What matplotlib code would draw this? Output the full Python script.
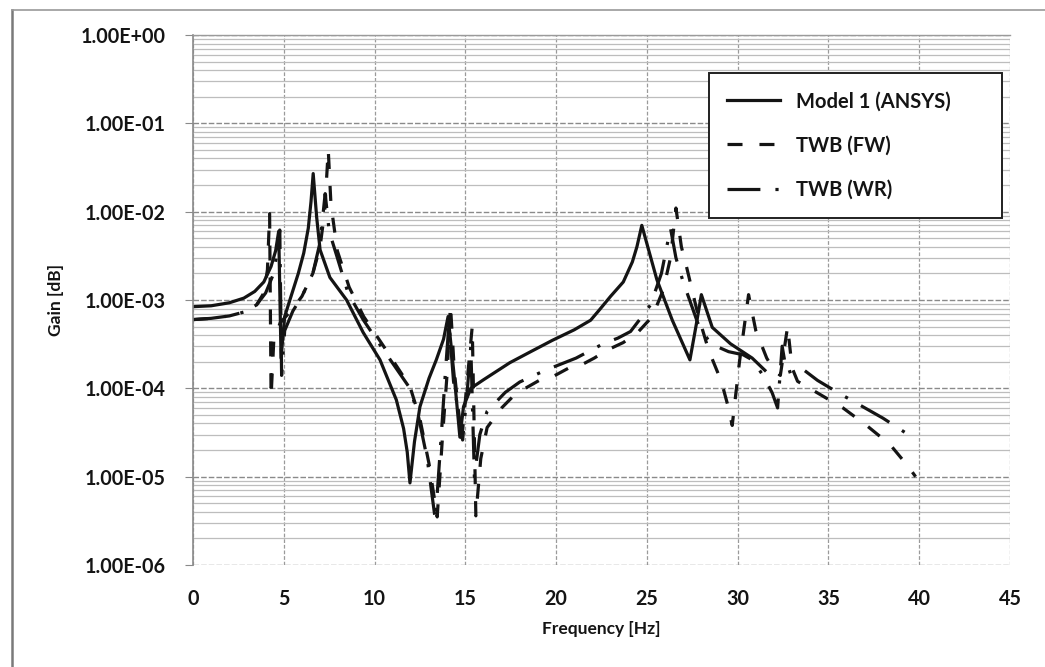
import matplotlib
matplotlib.use("Agg")
import matplotlib.pyplot as plt
from matplotlib.ticker import FixedLocator, FuncFormatter, LogLocator, NullFormatter
from matplotlib.lines import Line2D

plt.rcParams['font.family'] = ['Lato', 'DejaVu Sans']
plt.rcParams['font.weight'] = 'bold'

# Model 1 (ANSYS) response
f_model1 = [0.0, 1.0, 2.0, 2.8, 3.4, 3.9, 4.3, 4.55, 4.72, 4.85, 5.05, 5.4, 5.8, 6.1,
            6.35, 6.5, 6.62, 6.81, 7.0, 7.54, 8.46, 9.37, 10.3, 11.2, 11.6, 11.8,
            11.95, 12.2, 12.5, 13.0, 13.4, 13.8, 14.05, 14.4, 14.7, 14.9, 15.3, 16.0,
            17.45, 18.6, 19.8, 21.0, 21.9, 22.4, 23.0, 23.7, 24.2, 24.45, 24.72, 25.55,
            26.4, 27.37, 27.7, 28.0, 28.6, 29.6, 30.8, 31.5]
g_model1 = [8.4e-4, 8.6e-4, 9.3e-4, 1.05e-3, 1.25e-3, 1.6e-3, 2.4e-3, 3.6e-3, 6.0e-3,
            2.2e-4, 6.5e-4, 1.1e-3, 2.0e-3, 3.4e-3, 6.5e-3, 1.3e-2, 2.7e-2, 8.7e-3,
            3.7e-3, 1.8e-3, 1.0e-3, 4.3e-4, 2.1e-4, 7.4e-5, 3.5e-5, 1.9e-5, 8.5e-6,
            2.5e-5, 6.2e-5, 1.3e-4, 2.1e-4, 3.6e-4, 6.5e-4, 1.3e-4, 2.8e-5, 6.2e-5,
            1.0e-4, 1.25e-4, 1.95e-4, 2.6e-4, 3.5e-4, 4.6e-4, 5.9e-4, 7.8e-4, 1.1e-3,
            1.6e-3, 2.7e-3, 4.0e-3, 7.0e-3, 1.7e-3, 5.9e-4, 2.1e-4, 5.0e-4, 1.15e-3,
            4.9e-4, 3.2e-4, 2.2e-4, 1.6e-4]

# TWB (FW)
f_fw = [0.0, 1.0, 2.0, 2.8, 3.5, 3.9, 4.1, 4.22, 4.3, 4.45, 4.8, 5.5, 6.0, 6.6, 7.0,
        7.25, 7.45, 7.6, 7.95, 8.6, 9.4, 10.45, 11.95, 12.5, 13.0, 13.45, 13.75, 14.0,
        14.18, 14.4, 14.8, 15.1, 15.38, 15.58, 15.85, 16.2, 17.0, 17.7, 18.3, 19.1, 19.8,
        20.7, 21.3, 22.1, 22.8, 23.7, 24.5, 25.3, 25.9, 26.3, 26.6, 26.9, 27.2, 27.8,
        28.4, 29.1, 29.45, 29.7, 30.1, 30.6, 31.0, 31.6, 32.0, 32.35, 32.75, 33.0, 33.3,
        34.15, 35.8, 37.1, 38.4, 39.4, 39.8]
g_fw = [6.0e-4, 6.2e-4, 6.6e-4, 7.3e-4, 8.8e-4, 1.2e-3, 2.2e-3, 9.5e-3, 8.0e-5, 3.5e-4,
        5.5e-4, 8.0e-4, 1.1e-3, 2.0e-3, 4.0e-3, 1.0e-2, 5.0e-2, 1.2e-2, 3.6e-3, 1.4e-3,
        6.5e-4, 3.1e-4, 1.05e-4, 4.5e-5, 1.4e-5, 3.5e-6, 3.0e-5, 1.5e-4, 8.8e-4, 1.5e-4,
        2.6e-5, 1.2e-4, 5.0e-4, 3.6e-6, 1.6e-5, 3.6e-5, 6.0e-5, 8.4e-5, 1.0e-4, 1.24e-4,
        1.35e-4, 1.7e-4, 1.8e-4, 2.2e-4, 2.7e-4, 3.3e-4, 4.3e-4, 6.5e-4, 1.3e-3, 3.0e-3,
        1.1e-2, 4.0e-3, 2.3e-3, 7.0e-4, 2.7e-4, 1.2e-4, 6.5e-5, 3.8e-5, 2.0e-4, 1.15e-3,
        4.5e-4, 2.2e-4, 1.6e-4, 1.4e-4, 5.0e-4, 1.7e-4, 1.2e-4, 9.5e-5, 6.0e-5, 3.8e-5,
        2.3e-5, 1.3e-5, 1.0e-5]

# TWB (WR)
f_wr = [0.0, 1.0, 2.0, 2.8, 3.5, 4.0, 4.4, 4.65, 4.78, 4.88, 5.05, 5.5, 6.0, 6.6, 7.0,
        7.28, 7.5, 7.93, 8.54, 9.37, 10.4, 11.95, 12.4, 12.9, 13.35, 13.7, 13.9, 14.1,
        14.35, 14.85, 15.1, 15.3, 15.5, 15.8, 16.2, 17.2, 18.0, 19.4, 21.1, 22.6, 23.4,
        24.1, 24.6, 25.2, 25.8, 26.3, 26.6, 27.0, 27.8, 28.5, 29.5, 30.3, 30.8, 31.4,
        31.9, 32.2, 32.45, 32.7, 33.5, 34.4, 35.5, 38.0, 39.5, 39.8]
g_wr = [6.0e-4, 6.2e-4, 6.6e-4, 7.3e-4, 8.8e-4, 1.2e-3, 1.9e-3, 3.5e-3, 6.2e-3, 1.4e-4,
        4.5e-4, 7.5e-4, 1.1e-3, 2.0e-3, 4.5e-3, 1.6e-2, 6.0e-3, 3.1e-3, 1.2e-3, 6.0e-4,
        2.9e-4, 1.0e-4, 5.0e-5, 1.6e-5, 3.2e-6, 3.5e-5, 1.5e-4, 5.5e-4, 1.2e-4, 2.6e-5,
        9.0e-5, 3.0e-4, 1.0e-5, 3.0e-5, 5.5e-5, 9.0e-5, 1.18e-4, 1.6e-4, 2.2e-4, 3.2e-4,
        3.7e-4, 4.4e-4, 6.0e-4, 8.8e-4, 2.0e-3, 6.5e-3, 3.0e-3, 1.6e-3, 5.5e-4, 3.2e-4,
        2.6e-4, 2.4e-4, 2.1e-4, 1.4e-4, 8.9e-5, 6.0e-5, 3.0e-4, 1.5e-4, 1.7e-4, 1.23e-4,
        9.0e-5, 4.6e-5, 2.9e-5, 2.6e-5]

x_ticks = [0, 5, 10, 15, 20, 25, 30, 35, 40, 45]
y_ticks = [1e-6, 1e-5, 1e-4, 1e-3, 1e-2, 1e-1, 1e0]

ink = '#141414'
fig = plt.figure(figsize=(10.45, 6.67), dpi=100)
ax = fig.add_axes([193 / 1045, 102 / 667, 817 / 1045, 530 / 667])

lw = 2.3
ax.plot(f_model1, g_model1, color=ink, lw=lw, label='Model 1 (ANSYS)')
ax.plot(f_fw, g_fw, color=ink, lw=lw, dashes=(4.7, 5.3), label='TWB (FW)')
ax.plot(f_wr, g_wr, color=ink, lw=lw, dashes=(10.3, 4.7, 1, 4.7), label='TWB (WR)')

ax.set_yscale('log')
ax.set_xlim(0, 45)
ax.set_ylim(1e-6, 1e0)
ax.xaxis.set_major_locator(FixedLocator(x_ticks))
ax.yaxis.set_major_locator(FixedLocator(y_ticks))
ax.yaxis.set_major_formatter(FuncFormatter(lambda v, p: f"{v:.2E}"))
ax.yaxis.set_minor_locator(LogLocator(base=10, subs=range(2, 10)))
ax.yaxis.set_minor_formatter(NullFormatter())

ax.grid(True, which='major', axis='y', color='#8a8a8a', lw=1.0, ls=(0, (4, 1.5)))
ax.grid(True, which='minor', axis='y', color='#bdbdbd', lw=0.9)
ax.grid(True, which='major', axis='x', color='#9a9a9a', lw=0.9, ls=(0, (3, 1.5)))
ax.set_axisbelow(True)

for side in ['right', 'bottom']:
    ax.spines[side].set_visible(False)
ax.spines['left'].set_color('#8a8a8a')
ax.spines['top'].set_color('#9a9a9a')
ax.spines['left'].set_linewidth(1.2)
ax.spines['top'].set_linewidth(1.0)

ax.tick_params(axis='y', which='major', direction='out', length=6, color='#8a8a8a',
               pad=14, labelsize=14.2, labelcolor=ink)
ax.tick_params(axis='y', which='minor', length=0)
ax.tick_params(axis='x', direction='in', length=0, pad=17, labelsize=14.2, labelcolor=ink)

ax.set_xlabel('Frequency [Hz]', fontsize=12.5, fontweight='bold', color=ink, labelpad=9)
ax.set_ylabel('Gain [dB]', fontsize=12.5, fontweight='bold', color=ink, labelpad=12)

leg = ax.legend(loc='upper left', bbox_to_anchor=(0.6316, 0.655, 0.3584, 0.273),
                mode='expand', fontsize=14.5, handlelength=2.6, handletextpad=0.8,
                labelspacing=1.2, borderpad=0.9, borderaxespad=0, fancybox=False,
                framealpha=1, edgecolor='#202020')
leg.get_frame().set_linewidth(1.4)
for t in leg.get_texts():
    t.set_color(ink)

# outer chart border
fig.add_artist(Line2D([12 / 1045, 12 / 1045], [0, 1 - 10 / 667], color='#7a7a7a', lw=1.8))
fig.add_artist(Line2D([12 / 1045, 1], [1 - 10 / 667, 1 - 10 / 667], color='#9a9a9a', lw=1.2))

fig.savefig('out.png', dpi=100)
